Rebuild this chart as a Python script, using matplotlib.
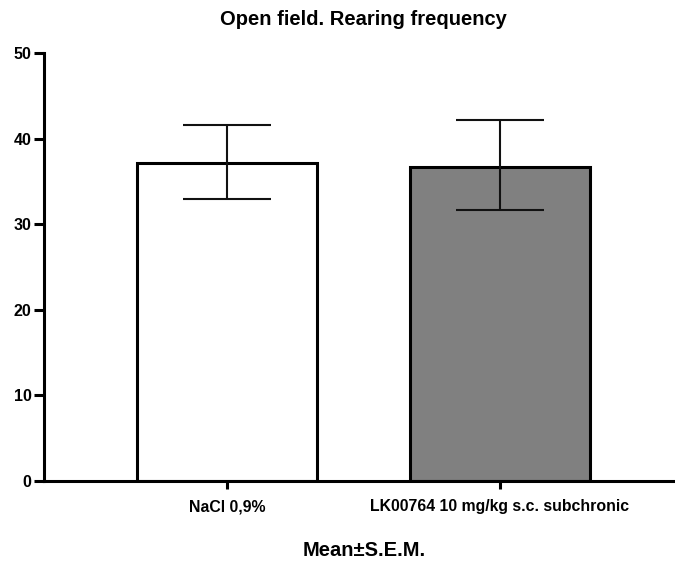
import matplotlib
matplotlib.use("Agg")
import matplotlib.pyplot as plt
import numpy as np

groups = ["NaCl 0,9%", "LK00764 10 mg/kg s.c. subchronic"]
means = [37.2, 36.7]
err_low = [4.3, 5.0]
err_high = [4.4, 5.5]
colors = ["white", "#808080"]

plt.rcParams["font.family"] = ["Liberation Sans", "DejaVu Sans"]

fig = plt.figure(figsize=(6.75, 5.69), dpi=100)
ax = fig.add_axes([0.0652, 0.1547, 0.9348, 0.7522])

x = np.arange(len(groups))
ax.bar(x, means, width=0.66, color=colors, edgecolor="black", linewidth=2.2, zorder=2)
ax.errorbar(x, means, yerr=[err_low, err_high], fmt="none", ecolor="#111111",
            elinewidth=1.5, capsize=32, capthick=1.5, zorder=3)

ax.set_xlim(-0.67, 1.641)
ax.set_ylim(0, 50)
ax.set_yticks([0, 10, 20, 30, 40, 50])
ax.set_xticks(x)
ax.set_xticklabels(groups, fontsize=11.4, fontweight="bold")
for lab in ax.get_yticklabels():
    lab.set_fontweight("bold")
    lab.set_fontsize(11.5)
ax.tick_params(axis="y", length=7, width=2.2, pad=2)
ax.tick_params(axis="x", length=6, width=2.2, pad=7)
for side in ("top", "right"):
    ax.spines[side].set_visible(False)
for side in ("left", "bottom"):
    ax.spines[side].set_linewidth(2.2)

fig.text(0.538, 0.965, "Open field. Rearing frequency", ha="center", va="center",
         fontsize=14.5, fontweight="bold")
fig.text(0.539, 0.033, "Mean±S.E.M.", ha="center", va="center", fontsize=14.5, fontweight="bold")

fig.savefig("out.png", dpi=100)
